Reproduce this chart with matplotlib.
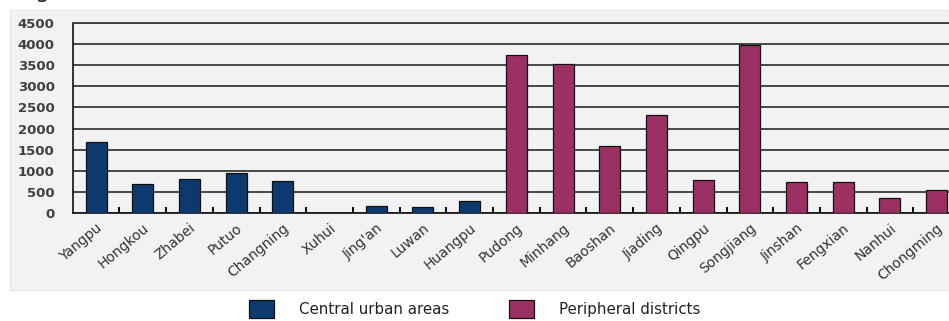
import matplotlib
matplotlib.use("Agg")
import matplotlib.pyplot as plt
from matplotlib.patches import Rectangle
import numpy as np

districts = ["Yangpu", "Hongkou", "Zhabei", "Putuo", "Changning", "Xuhui", "Jing'an",
             "Luwan", "Huangpu", "Pudong", "Minhang", "Baoshan", "Jiading", "Qingpu",
             "Songjiang", "Jinshan", "Fengxian", "Nanhui", "Chongming"]
central = ["Yangpu", "Hongkou", "Zhabei", "Putuo", "Changning", "Xuhui", "Jing'an",
           "Luwan", "Huangpu"]
central_values = [1670, 690, 795, 935, 745, 0, 170, 135, 285]
peripheral = ["Pudong", "Minhang", "Baoshan", "Jiading", "Qingpu", "Songjiang",
              "Jinshan", "Fengxian", "Nanhui", "Chongming"]
peripheral_values = [3750, 3540, 1575, 2320, 770, 3980, 740, 740, 350, 550]
yticks = [0, 500, 1000, 1500, 2000, 2500, 3000, 3500, 4000, 4500]
legend_labels = ["Central urban areas", "Peripheral districts"]

W, H = 949, 321
fig = plt.figure(figsize=(W / 100, H / 100), dpi=100)
fig.patch.set_facecolor("white")

# chart area background
fig.patches.append(Rectangle((10 / W, 1 - 290 / H), (W - 10) / W, 280 / H,
                             transform=fig.transFigure, facecolor="#f2f2f2",
                             edgecolor="#e6e6e6", lw=0.8, zorder=-5))

# cropped title glyph at top-left
fig.text(50 / W, 1 + 1.5 / H, "Fig", ha="right", va="baseline", fontsize=16,
         color="#222222")

left, right, top, bottom = 72.7, 960, 23.3, 212.7
ax = fig.add_axes([left / W, 1 - bottom / H, (right - left) / W, (bottom - top) / H])
ax.set_zorder(2)
ax.set_facecolor("#f2f2f2")

pos = {d: i for i, d in enumerate(districts)}
xc = [pos[d] for d in central]
xp = [pos[d] for d in peripheral]
b1 = ax.bar(xc, central_values, width=0.45, color="#0d3a6e", edgecolor="#111111",
            linewidth=0.9, zorder=3)
b2 = ax.bar(xp, peripheral_values, width=0.45, color="#9b3064", edgecolor="#111111",
            linewidth=0.9, zorder=3)

ax.set_xlim(-0.5, len(districts) - 0.5)
ax.set_ylim(0, 4500)
ax.set_yticks(yticks)
ax.set_yticklabels([str(v) for v in yticks], fontsize=9.5, fontweight="bold",
                   color="#404040")
ax.tick_params(axis="y", length=0, pad=13)
ax.yaxis.grid(True, color="#3a3a3a", linewidth=1.3, zorder=1)
ax.set_axisbelow(True)

ax.set_xticks(np.arange(len(districts)))
ax.set_xticklabels(districts, rotation=40, ha="right", rotation_mode="anchor",
                   fontsize=10, color="#333333")
ax.tick_params(axis="x", which="major", length=0, pad=6)
ax.set_xticks(np.arange(len(districts) - 1) + 0.5, minor=True)
ax.tick_params(axis="x", which="minor", direction="in", length=4, width=1.5,
               color="#111111")

for s in ["top", "right"]:
    ax.spines[s].set_color("#3a3a3a")
    ax.spines[s].set_linewidth(1.3)
ax.spines["left"].set_color("#111111")
ax.spines["bottom"].set_color("#111111")
ax.spines["left"].set_linewidth(1.2)
ax.spines["bottom"].set_linewidth(1.2)

# legend, one entry per box
for handle, label, x0 in [(b1, legend_labels[0], 249), (b2, legend_labels[1], 509)]:
    fig.legend([handle], [label], loc="center left",
               bbox_to_anchor=(x0 / W, 1 - 309 / H), frameon=False,
               borderpad=0, borderaxespad=0, handlelength=1.65, handleheight=1.45,
               handletextpad=1.7, fontsize=10.8, labelcolor="#222222")

fig.savefig("out.png", dpi=100, facecolor="white")
